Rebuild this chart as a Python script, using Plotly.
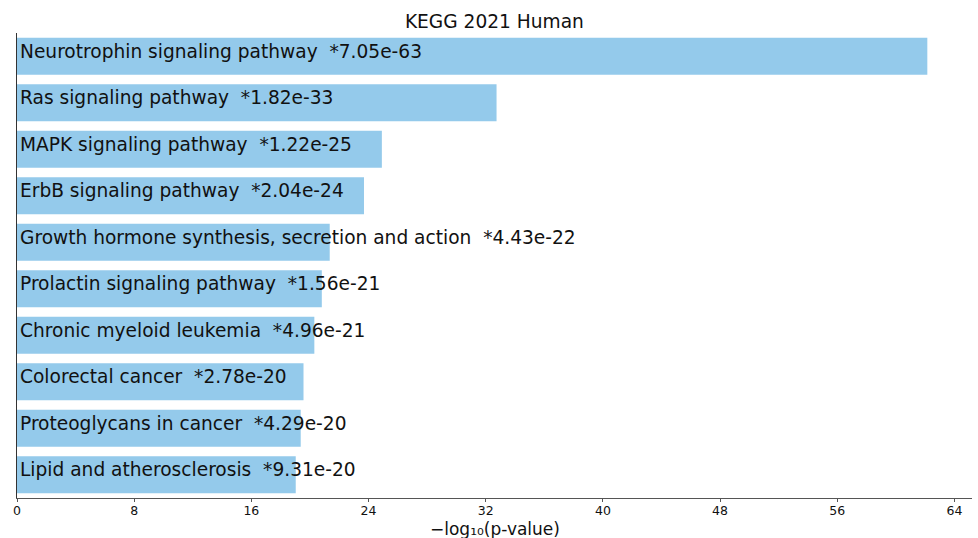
import plotly.graph_objects as go

terms = [
    "Neurotrophin signaling pathway",
    "Ras signaling pathway",
    "MAPK signaling pathway",
    "ErbB signaling pathway",
    "Growth hormone synthesis, secretion and action",
    "Prolactin signaling pathway",
    "Chronic myeloid leukemia",
    "Colorectal cancer",
    "Proteoglycans in cancer",
    "Lipid and atherosclerosis",
]
pvals = ["7.05e-63", "1.82e-33", "1.22e-25", "2.04e-24", "4.43e-22",
         "1.56e-21", "4.96e-21", "2.78e-20", "4.29e-20", "9.31e-20"]
neglog = [62.15, 32.74, 24.91, 23.69, 21.35, 20.81, 20.30, 19.56, 19.37, 19.03]
tick_vals = [0, 8, 16, 24, 32, 40, 48, 56, 64]
x_title = "−log₁₀(p-value)"

idx = list(range(len(terms)))
font = "DejaVu Sans, sans-serif"

fig = go.Figure(go.Bar(
    x=neglog, y=idx, orientation="h", width=0.8,
    marker=dict(color="#94CAEB", line=dict(width=0)),
    hoverinfo="skip",
))

for i, (t, p) in enumerate(zip(terms, pvals)):
    fig.add_annotation(x=0, y=i, xref="x", yref="y", text=f"{t}  *{p}",
                       showarrow=False, xanchor="left", yanchor="middle",
                       xshift=1, yshift=5,
                       font=dict(family=font, size=18.6, color="#111111"))

fig.add_annotation(x=0.5, y=0, xref="paper", yref="paper", text=x_title,
                   showarrow=False, xanchor="center", yanchor="middle",
                   yshift=-31, borderpad=0,
                   font=dict(family=font, size=17, color="#111111"))

fig.update_layout(
    width=978, height=538,
    margin=dict(l=17, r=6, t=33, b=40),
    paper_bgcolor="white", plot_bgcolor="white",
    showlegend=False,
    title=dict(text="KEGG 2021 Human", x=0.5055, xanchor="center",
               y=1 - 21 / 538, yanchor="middle",
               font=dict(family=font, size=18.6, color="#111111")),
    xaxis=dict(range=[0, 65.2], tickvals=tick_vals, ticks="outside",
               ticklen=3, tickcolor="#555555", showgrid=False, zeroline=False,
               showline=True, linecolor="#555555", linewidth=1,
               automargin=False, ticklabelstandoff=-2,
               tickfont=dict(family=font, size=12.5, color="#111111")),
    yaxis=dict(range=[9.5, -0.5], showticklabels=False, ticks="",
               showgrid=False, zeroline=False, showline=True,
               automargin=False,
               linecolor="#333333", linewidth=1),
)

fig.write_html("out.html")
